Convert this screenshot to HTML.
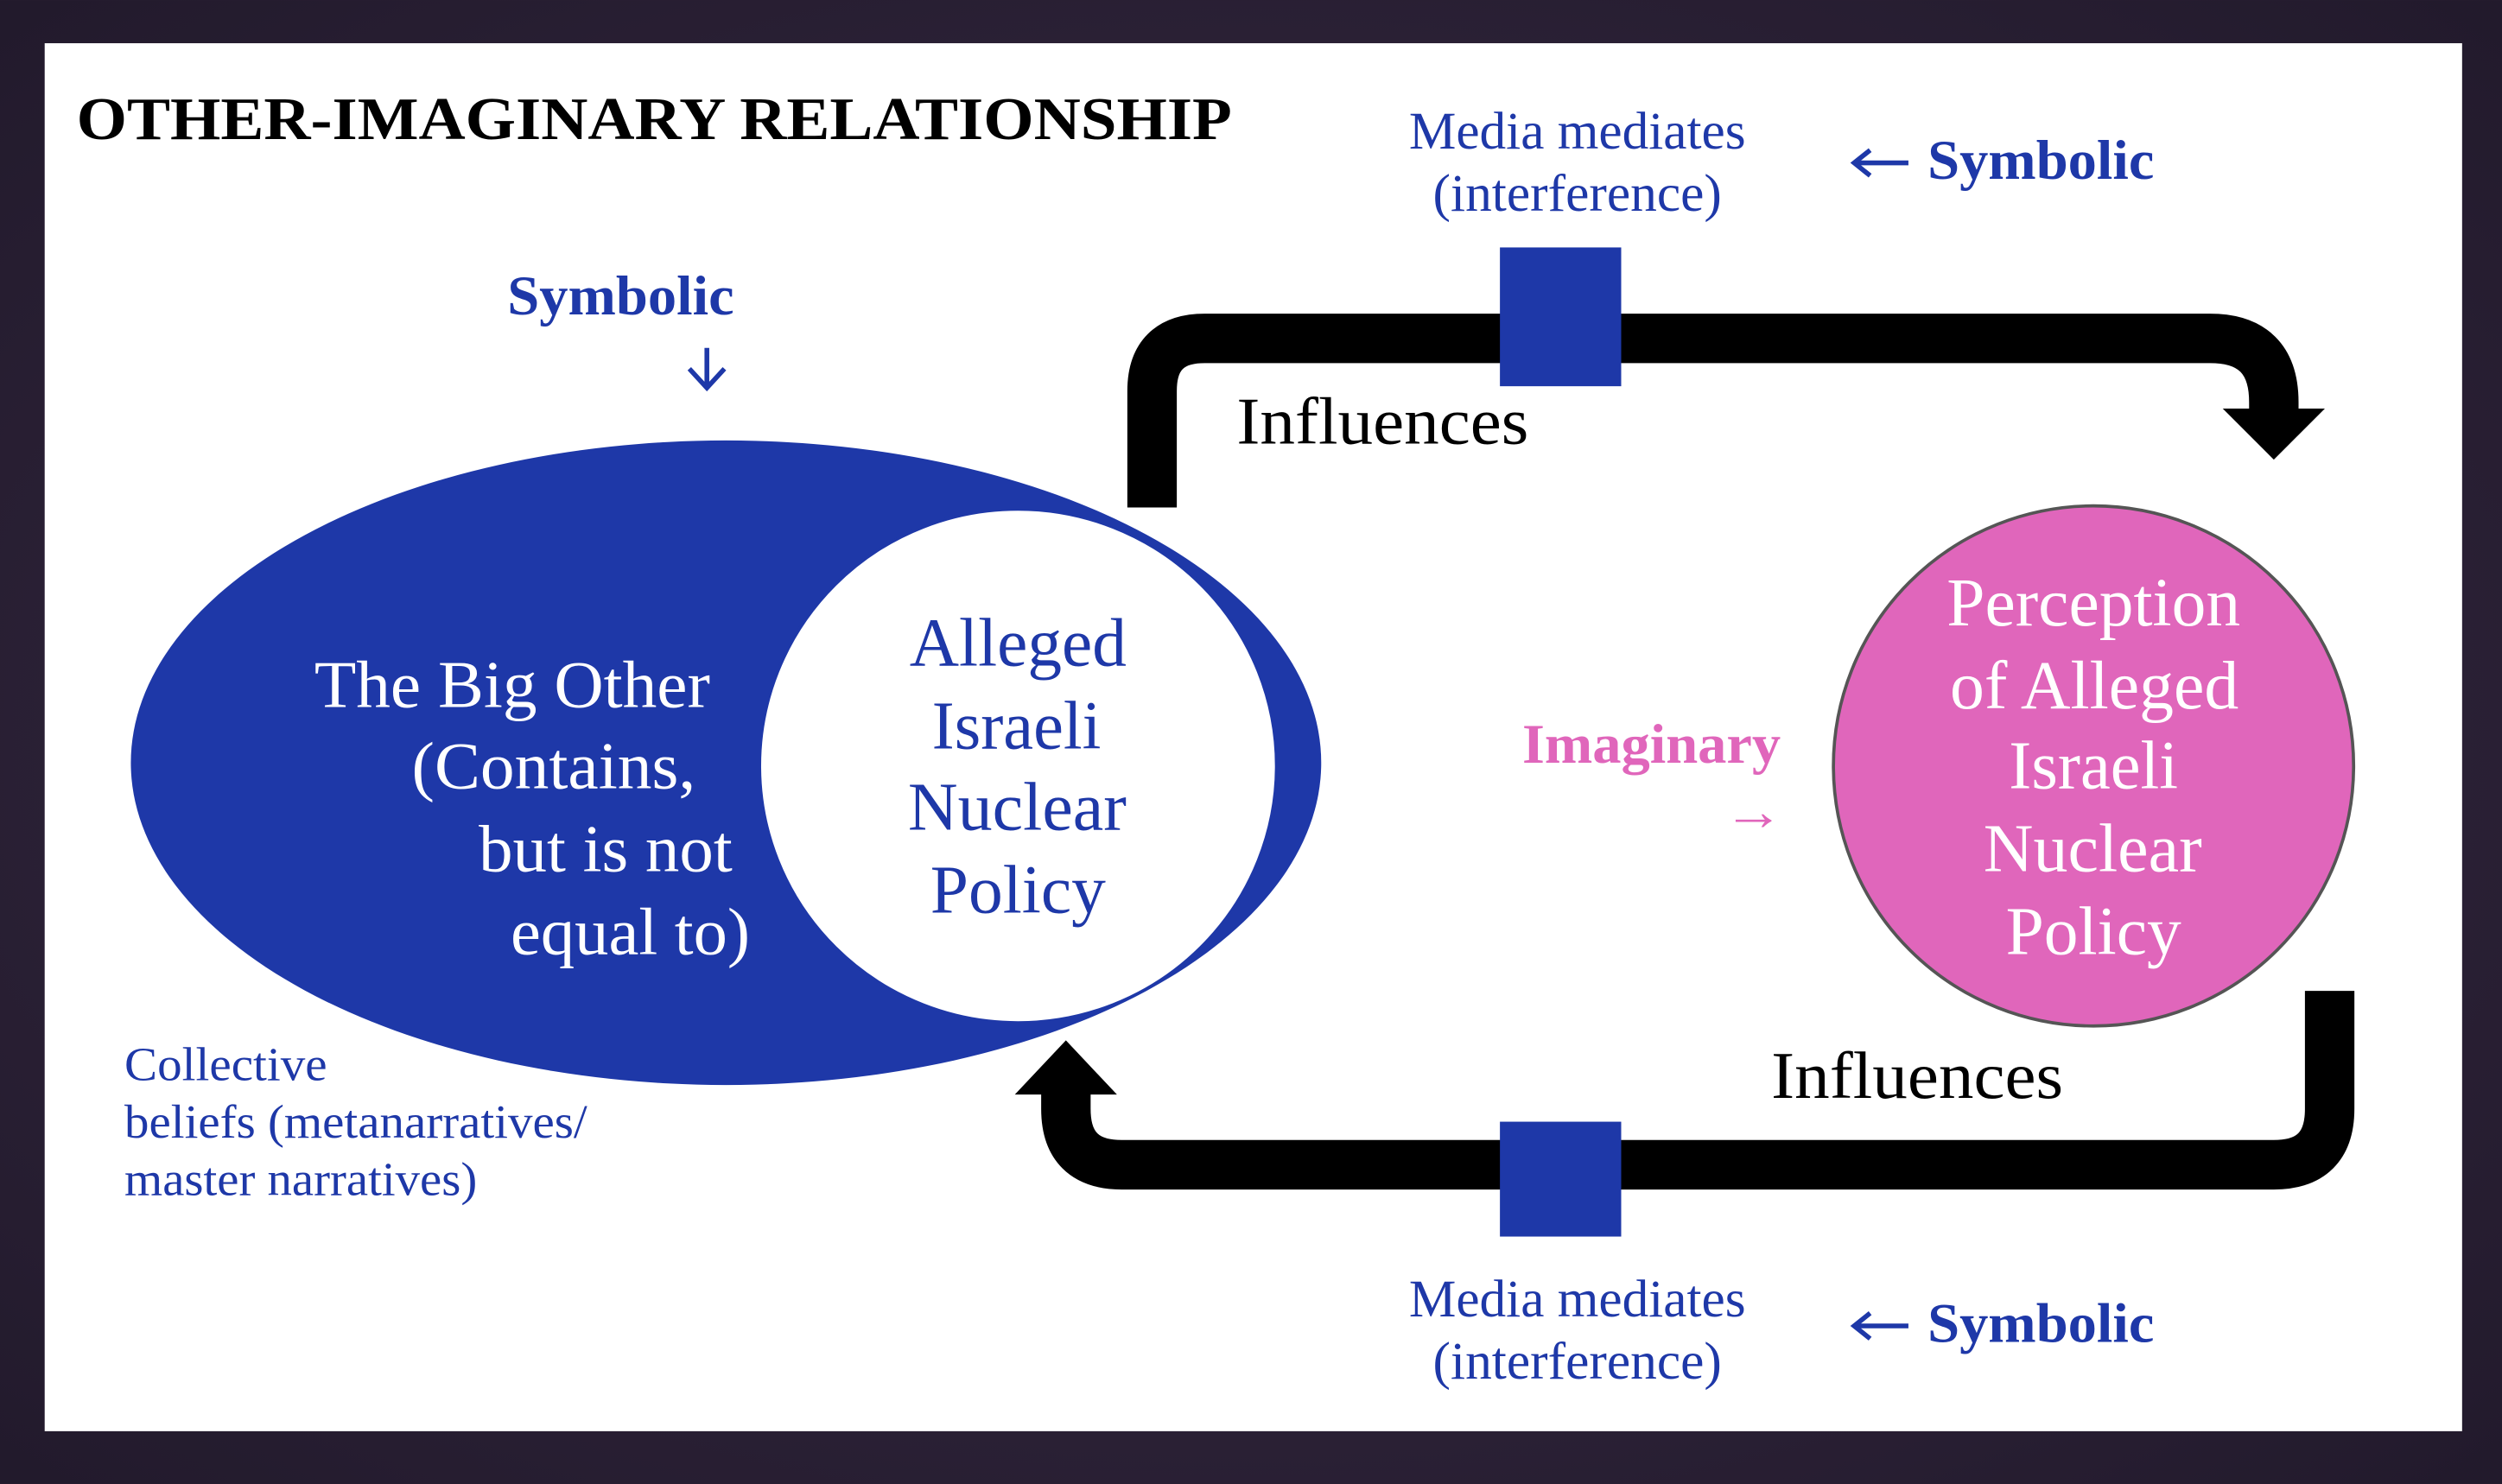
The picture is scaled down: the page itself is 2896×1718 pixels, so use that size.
<!DOCTYPE html>
<html><head><meta charset="utf-8"><style>
html,body{margin:0;padding:0;background:#2a1f33;}
svg{display:block;}
text{font-family:"Liberation Serif",serif;}
</style></head><body>
<svg width="2896" height="1718" viewBox="0 0 1568 930" xmlns="http://www.w3.org/2000/svg">
<defs>
<radialGradient id="bg" cx="50%" cy="50%" r="70%">
<stop offset="0" stop-color="#3a2c46"/><stop offset="1" stop-color="#221a2c"/>
</radialGradient>
</defs>
<rect width="1568" height="930" fill="url(#bg)"/>
<rect x="28" y="27" width="1515" height="870" fill="#ffffff"/>

<text x="48" y="87" font-size="38" font-weight="bold" fill="#000" textLength="724" lengthAdjust="spacingAndGlyphs">OTHER-IMAGINARY RELATIONSHIP</text>

<ellipse cx="455" cy="478" rx="373" ry="202" fill="#1e38a8"/>
<ellipse cx="638" cy="480" rx="162" ry="161" fill="#fff" stroke="#1e38a8" stroke-width="2"/>

<g fill="#fff" font-size="42" lengthAdjust="spacingAndGlyphs">
<text x="197" y="443" textLength="248" lengthAdjust="spacingAndGlyphs">The Big Other</text>
<text x="258" y="494" textLength="178" lengthAdjust="spacingAndGlyphs">(Contains,</text>
<text x="300" y="546" textLength="159" lengthAdjust="spacingAndGlyphs">but is not</text>
<text x="320" y="598" textLength="150" lengthAdjust="spacingAndGlyphs">equal to)</text>
</g>
<g fill="#1e38a8" font-size="43">
<text x="570" y="417" textLength="136" lengthAdjust="spacingAndGlyphs">Alleged</text>
<text x="584" y="469" textLength="106" lengthAdjust="spacingAndGlyphs">Israeli</text>
<text x="569" y="520" textLength="137" lengthAdjust="spacingAndGlyphs">Nuclear</text>
<text x="583" y="572" textLength="110" lengthAdjust="spacingAndGlyphs">Policy</text>
</g>

<circle cx="1312" cy="480" r="163" fill="#e066bb" stroke="#555" stroke-width="2"/>
<g fill="#fff" font-size="43">
<text x="1220" y="392" textLength="184" lengthAdjust="spacingAndGlyphs">Perception</text>
<text x="1222" y="444" textLength="181" lengthAdjust="spacingAndGlyphs">of Alleged</text>
<text x="1259" y="494" textLength="106" lengthAdjust="spacingAndGlyphs">Israeli</text>
<text x="1243" y="546" textLength="137" lengthAdjust="spacingAndGlyphs">Nuclear</text>
<text x="1257" y="598" textLength="110" lengthAdjust="spacingAndGlyphs">Policy</text>
</g>

<text x="954" y="478" font-size="35" font-weight="bold" fill="#e066bb" textLength="162" lengthAdjust="spacingAndGlyphs">Imaginary</text>
<text x="1080" y="520" font-size="34" fill="#e066bb" textLength="38" lengthAdjust="spacingAndGlyphs">→</text>

<text x="318" y="197" font-size="35" font-weight="bold" fill="#1e38a8" textLength="142" lengthAdjust="spacingAndGlyphs">Symbolic</text>
<path d="M443,218 V242 M432,231 L443,243 L454,231" fill="none" stroke="#1e38a8" stroke-width="3"/>

<path d="M722,318 V245 Q722,212 755,212 H1385 Q1425,212 1425,252 V258" fill="none" stroke="#000" stroke-width="31"/>
<polygon points="1393,256 1457,256 1425,288" fill="#000"/>
<rect x="940" y="155" width="76" height="87" fill="#1e38a8"/>
<text x="775" y="278" font-size="42" fill="#000" textLength="183" lengthAdjust="spacingAndGlyphs">Influences</text>

<g fill="#1e38a8" font-size="33">
<text x="883" y="93" textLength="211" lengthAdjust="spacingAndGlyphs">Media mediates</text>
<text x="898" y="132" textLength="181" lengthAdjust="spacingAndGlyphs">(interference)</text>
<text x="883" y="825" textLength="211" lengthAdjust="spacingAndGlyphs">Media mediates</text>
<text x="898" y="864" textLength="181" lengthAdjust="spacingAndGlyphs">(interference)</text>
</g>
<path d="M1162,102 H1196 M1172,94 L1162,102 L1172,110" fill="none" stroke="#1e38a8" stroke-width="3"/>
<text x="1208" y="112" font-size="35" font-weight="bold" fill="#1e38a8" textLength="142" lengthAdjust="spacingAndGlyphs">Symbolic</text>
<path d="M1162,831 H1196 M1172,823 L1162,831 L1172,839" fill="none" stroke="#1e38a8" stroke-width="3"/>
<text x="1208" y="841" font-size="35" font-weight="bold" fill="#1e38a8" textLength="142" lengthAdjust="spacingAndGlyphs">Symbolic</text>

<path d="M1460,621 V695 Q1460,730 1425,730 H703 Q668,730 668,695 V684" fill="none" stroke="#000" stroke-width="31"/>
<polygon points="636,686 700,686 668,652" fill="#000"/>
<rect x="940" y="703" width="76" height="72" fill="#1e38a8"/>
<text x="1110" y="688" font-size="42" fill="#000" textLength="183" lengthAdjust="spacingAndGlyphs">Influences</text>

<g fill="#1e38a8" font-size="30">
<text x="78" y="677" textLength="127" lengthAdjust="spacingAndGlyphs">Collective</text>
<text x="78" y="713" textLength="290" lengthAdjust="spacingAndGlyphs">beliefs (metanarratives/</text>
<text x="78" y="749" textLength="221" lengthAdjust="spacingAndGlyphs">master narratives)</text>
</g>
</svg>
</body></html>
